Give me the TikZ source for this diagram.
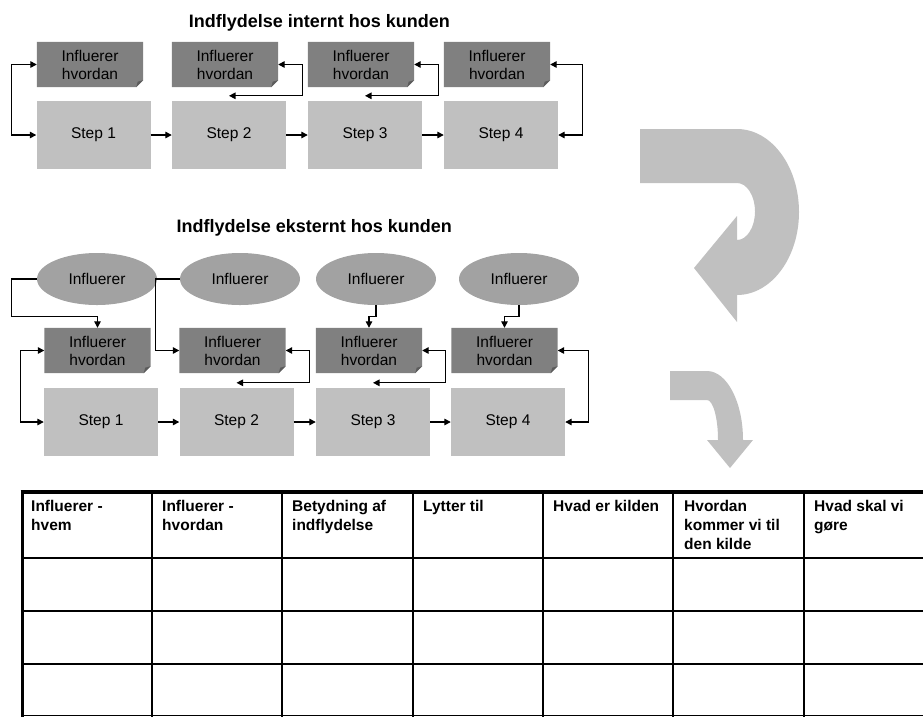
\documentclass[tikz,border=0pt]{standalone}
\usepackage{fontspec}
\setmainfont{Liberation Sans}
\usetikzlibrary{arrows.meta,shapes.geometric}
\definecolor{stepgray}{HTML}{C0C0C0}
\definecolor{hvgray}{HTML}{808080}
\definecolor{foldgray}{HTML}{5C5C5C}
\definecolor{ellgray}{HTML}{A2A2A2}
\definecolor{bigarrow}{HTML}{C0C0C0}
\pgfdeclarelayer{background}
\pgfsetlayers{background,main}

% "Influerer hvordan" box with a folded lower-right corner
\newcommand\hvnode[3]{%
  \node[hvbox] (#1) at (#2,#3) {Influerer\\hvordan};
  \begin{pgfonlayer}{background}
    \fill[hvgray] (#1.north west) -- (#1.north east) -- ([yshift=7pt]#1.south east)
      -- ([xshift=-7pt]#1.south east) -- (#1.south west) -- cycle;
    \fill[foldgray] ([yshift=7pt]#1.south east) -- ([xshift=-7pt]#1.south east)
      -- ([xshift=-5.5pt,yshift=5.5pt]#1.south east) -- cycle;
  \end{pgfonlayer}}

\begin{document}
\begin{tikzpicture}[x=1pt,y=1pt,
  txt/.style={font=\fontsize{15.5}{18}\selectfont},
  stepbox/.style={txt, fill=stepgray, minimum width=114pt, minimum height=68pt, inner sep=0pt},
  hvbox/.style={txt, align=center, minimum width=106pt, minimum height=45pt, inner sep=0pt},
  infl/.style={txt, ellipse, fill=ellgray, minimum width=120pt, minimum height=52pt, inner sep=0pt},
  tip/.tip={Triangle[length=6.5pt,width=6.5pt]},
  conn/.style={line width=1.3pt, -tip},
  biconn/.style={line width=1.3pt, tip-tip},
  title/.style={font=\fontsize{18}{20}\selectfont\bfseries, anchor=base east, inner sep=0pt},
  head/.style={font=\fontsize{15.5}{19}\selectfont\bfseries, align=left, anchor=north west, inner sep=0pt},
  grid/.style={line width=1.3pt, black},
]
\useasboundingbox (0,0) rectangle (923,-716);
\clip (0,0) rectangle (923,-716);

% ---------- internal influence ----------
\node[title] (t1) at (450,-27) {Indflydelse internt hos kunden};

\hvnode{h1}{90}{-64.5}
\hvnode{h2}{225}{-64.5}
\hvnode{h3}{361}{-64.5}
\hvnode{h4}{497}{-64.5}

\node[stepbox] (s1) at (93.5,-135) {Step 1};
\node[stepbox] (s2) at (229,-135) {Step 2};
\node[stepbox] (s3) at (365,-135) {Step 3};
\node[stepbox] (s4) at (501,-135) {Step 4};

\draw[conn] (s1.east) -- (s2.west);
\draw[conn] (s2.east) -- (s3.west);
\draw[conn] (s3.east) -- (s4.west);

\draw[biconn] (s1.west) -- ++(-25,0) |- (h1.west);
\draw[biconn] (h2.east) -- ++(24,0) |- ([yshift=5pt]s2.north);
\draw[biconn] (h3.east) -- ++(24,0) |- ([yshift=5pt]s3.north);
\draw[biconn] (h4.east) -- ++(32,0) |- (s4.east);

% ---------- external influence ----------
\node[title] (t2) at (452,-232) {Indflydelse eksternt hos kunden};

\node[infl] (e1) at (97,-279) {Influerer};
\node[infl] (e2) at (240,-279) {Influerer};
\node[infl] (e3) at (376,-279) {Influerer};
\node[infl] (e4) at (519,-279) {Influerer};

\hvnode{b1}{97.5}{-350.5}
\hvnode{b2}{232.5}{-350.5}
\hvnode{b3}{369}{-350.5}
\hvnode{b4}{504.5}{-350.5}

\node[stepbox] (r1) at (101,-422) {Step 1};
\node[stepbox] (r2) at (236.5,-422) {Step 2};
\node[stepbox] (r3) at (373,-422) {Step 3};
\node[stepbox] (r4) at (508,-422) {Step 4};

\draw[conn] (r1.east) -- (r2.west);
\draw[conn] (r2.east) -- (r3.west);
\draw[conn] (r3.east) -- (r4.west);

\draw[conn] (e1.west) -- ++(-25,0) |- ([yshift=11pt]b1.north) -- (b1.north);
\draw[conn] (e2.west) -- ++(-24,0) |- (b2.west);
\draw[conn] (e3.south) -- ++(0,-11) -| (b3.north);
\draw[conn] (e4.south) -- ++(0,-11) -| (b4.north);

\draw[biconn] (r1.west) -- ++(-23,0) |- (b1.west);
\draw[biconn] (b2.east) -- ++(24,0) |- ([yshift=5pt]r2.north);
\draw[biconn] (b3.east) -- ++(23,0) |- ([yshift=5pt]r3.north);
\draw[biconn] (b4.east) -- ++(31,0) |- (r4.east);

% ---------- curved block arrows ----------
\fill[bigarrow] (640,-129) -- (737,-129) arc[start angle=90, end angle=-90, x radius=62, y radius=83]
  -- (737,-322) -- (694,-268) -- (737,-216) -- (737,-240)
  arc[start angle=-90, end angle=90, x radius=18, y radius=28.5]
  -- (640,-183) -- cycle;
\fill[bigarrow] (670,-371) -- (707,-371) arc[start angle=90, end angle=0, x radius=36, y radius=69]
  -- (753,-440) -- (730,-468) -- (707,-440) -- (718,-440)
  arc[start angle=0, end angle=90, x radius=11, y radius=40]
  -- (670,-400) -- cycle;

% ---------- table ----------
\foreach \y in {558,611,664,715.5}
  \draw[grid] (21,-\y) -- (930,-\y);
\foreach \x in {152,282,413,543,673,804}
  \draw[grid] (\x,-492) -- (\x,-720);
\draw[line width=3.5pt] (20.5,-492) -- (930,-492);
\draw[line width=3pt] (22,-490.5) -- (22,-720);

\node[head] (c1) at (31,-500.5) {Influerer -\\hvem};
\node[head] (c2) at (162,-500.5) {Influerer -\\hvordan};
\node[head] (c3) at (292,-500.5) {Betydning af\\indflydelse};
\node[head] (c4) at (423,-500.5) {Lytter til};
\node[head] (c5) at (553,-500.5) {Hvad er kilden};
\node[head] (c6) at (684,-500.5) {Hvordan\\kommer vi til\\den kilde};
\node[head] (c7) at (814,-500.5) {Hvad skal vi\\gøre};
\end{tikzpicture}
\end{document}
